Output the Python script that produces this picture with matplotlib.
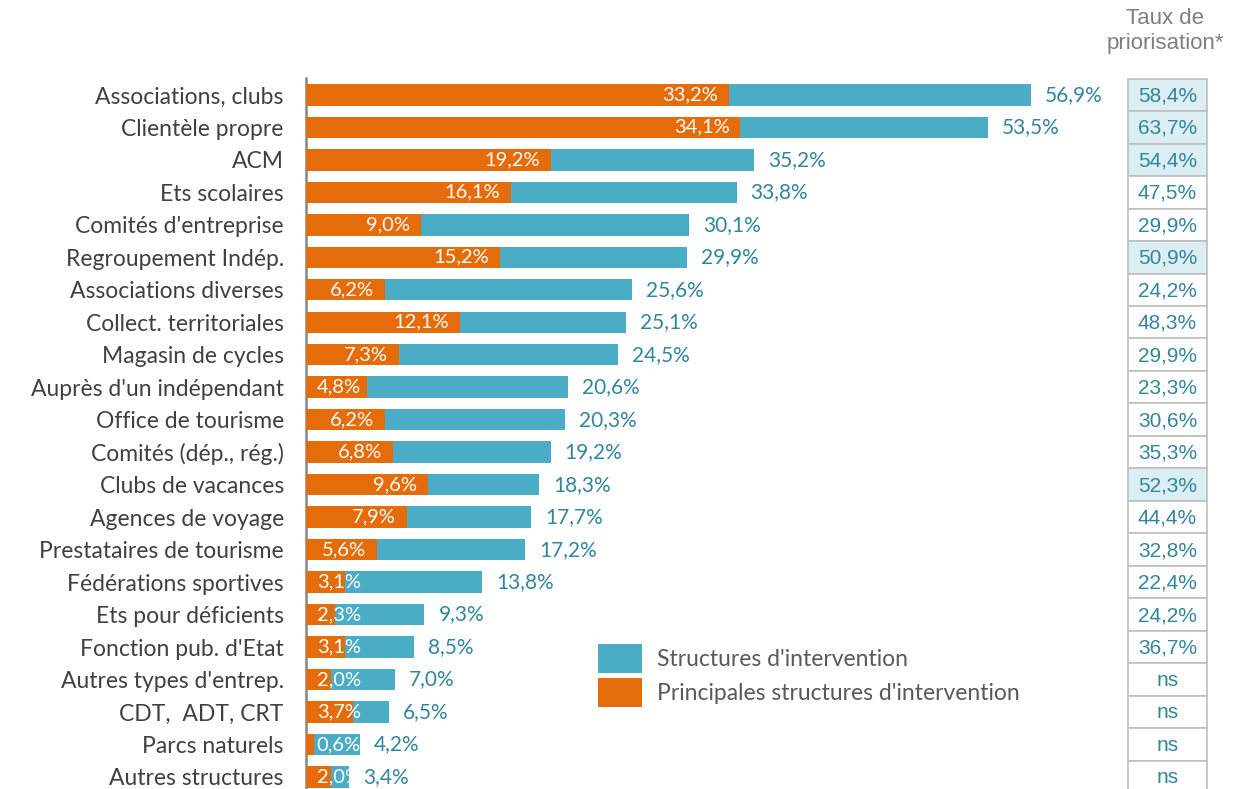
import matplotlib
matplotlib.use("Agg")
import matplotlib.pyplot as plt
from matplotlib.patches import Rectangle, Patch

categories = ["Associations, clubs", "Clientèle propre", "ACM", "Ets scolaires",
              "Comités d'entreprise", "Regroupement Indép.", "Associations diverses",
              "Collect. territoriales", "Magasin de cycles", "Auprès d'un indépendant",
              "Office de tourisme", "Comités (dép., rég.)", "Clubs de vacances",
              "Agences de voyage", "Prestataires de tourisme", "Fédérations sportives",
              "Ets pour déficients", "Fonction pub. d'Etat", "Autres types d'entrep.",
              "CDT,  ADT, CRT", "Parcs naturels", "Autres structures"]
structures = [56.9, 53.5, 35.2, 33.8, 30.1, 29.9, 25.6, 25.1, 24.5, 20.6, 20.3,
              19.2, 18.3, 17.7, 17.2, 13.8, 9.3, 8.5, 7.0, 6.5, 4.2, 3.4]
principales = [33.2, 34.1, 19.2, 16.1, 9.0, 15.2, 6.2, 12.1, 7.3, 4.8, 6.2,
               6.8, 9.6, 7.9, 5.6, 3.1, 2.3, 3.1, 2.0, 3.7, 0.6, 2.0]
priorisation = ["58,4%", "63,7%", "54,4%", "47,5%", "29,9%", "50,9%", "24,2%",
                "48,3%", "29,9%", "23,3%", "30,6%", "35,3%", "52,3%", "44,4%",
                "32,8%", "22,4%", "24,2%", "36,7%", "ns", "ns", "ns", "ns"]
highlighted = [0, 1, 2, 5, 12]

BLUE = "#4BACC6"
ORANGE = "#E46C0A"
TEAL = "#31859C"
W, H = 1253, 789

def fmt(v):
    return f"{v:.1f}%".replace(".", ",")

fig = plt.figure(figsize=(W / 100, H / 100), dpi=100)
ax = fig.add_axes([306 / W, 0, (1110 - 306) / W, (H - 78) / H])
n = len(categories)
y = list(range(n))
ylim = (21.37, -0.52)

ax.barh(y, structures, height=0.66, color=BLUE, zorder=2)
ax.barh(y, principales, height=0.66, color=ORANGE, zorder=3)
ax.set_xlim(0, (1110 - 306) / 12.74)
ax.set_ylim(*ylim)

for i in y:
    ax.text(structures[i] + 1.1, i, fmt(structures[i]), va="center", ha="left",
            color=TEAL, fontsize=15, family="Lato", zorder=4)
    xr = max(principales[i] - 0.85, 4.3)
    ax.text(xr, i, fmt(principales[i]), va="center", ha="right",
            color="white", fontsize=14.5, family="Lato", zorder=4)

ax.set_yticks(y)
ax.set_yticklabels(categories, fontsize=16.5, family="Lato", color="#404040")
ax.tick_params(axis="y", length=0, pad=16)
ax.set_xticks([])
for s in ["top", "right", "bottom"]:
    ax.spines[s].set_visible(False)
ax.spines["left"].set_color("#868686")
ax.spines["left"].set_linewidth(1.8)

handles = [Patch(facecolor=BLUE, label="Structures d'intervention"),
           Patch(facecolor=ORANGE, label="Principales structures d'intervention")]
fig.legend(handles=handles, loc="upper left", bbox_to_anchor=(577 / W, 1 - 623 / H),
           frameon=False, prop={"family": "Lato", "size": 16.5}, labelcolor="#595959",
           handlelength=1.95, handleheight=1.6, handletextpad=0.65, labelspacing=0.2)

# table of priorisation rates
tab = fig.add_axes([1128 / W, 0, (1207 - 1128) / W, (H - 78) / H])
tab.set_xlim(0, 1)
tab.set_ylim(*ylim)
tab.axis("off")
for i in y:
    fc = "#DAEEF3" if i in highlighted else "white"
    tab.add_patch(Rectangle((0, i - 0.5), 1, 1, facecolor=fc, edgecolor="#BFBFBF",
                            linewidth=1.2, clip_on=False))
    tab.text(0.5, i + 0.03, priorisation[i], ha="center", va="center", color=TEAL,
             fontsize=15, family="Liberation Sans")

fig.text(1165 / W, 1 - 31 / H, "Taux de\npriorisation*", ha="center", va="center",
         color="#7F7F7F", fontsize=16, family="Liberation Sans", linespacing=1.2)

fig.savefig("out.png", dpi=100)
